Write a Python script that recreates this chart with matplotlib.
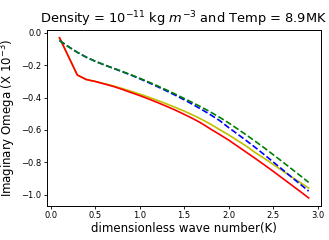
import matplotlib
matplotlib.use("Agg")
import matplotlib.pyplot as plt

# wave number K
k = [0.1, 0.2, 0.3, 0.4, 0.5, 0.6, 0.7, 0.8, 0.9, 1.0,
     1.1, 1.2, 1.3, 1.4, 1.5, 1.6, 1.7, 1.8, 1.9, 2.0,
     2.1, 2.2, 2.3, 2.4, 2.5, 2.6, 2.7, 2.8, 2.9]

# imaginary omega (x 1e-3)
om_red = [-0.03, -0.145, -0.26, -0.288, -0.30, -0.315, -0.33, -0.348, -0.368, -0.387,
          -0.408, -0.43, -0.453, -0.477, -0.503, -0.53, -0.56, -0.595, -0.628, -0.662,
          -0.70, -0.738, -0.776, -0.815, -0.855, -0.896, -0.937, -0.978, -1.02]
om_yellow = [-0.03, -0.145, -0.26, -0.288, -0.30, -0.313, -0.327, -0.343, -0.36, -0.378,
             -0.397, -0.417, -0.438, -0.46, -0.483, -0.508, -0.535, -0.565, -0.598, -0.63,
             -0.665, -0.70, -0.74, -0.775, -0.812, -0.85, -0.887, -0.923, -0.959]
om_blue = [-0.047, -0.085, -0.12, -0.15, -0.175, -0.197, -0.218, -0.239, -0.26, -0.283,
           -0.307, -0.332, -0.358, -0.385, -0.413, -0.443, -0.474, -0.507, -0.542, -0.585,
           -0.625, -0.666, -0.708, -0.752, -0.797, -0.842, -0.888, -0.933, -0.978]
om_green = [-0.047, -0.085, -0.12, -0.15, -0.175, -0.197, -0.217, -0.237, -0.258, -0.28,
            -0.303, -0.327, -0.352, -0.378, -0.405, -0.432, -0.46, -0.49, -0.522, -0.556,
            -0.593, -0.631, -0.67, -0.71, -0.752, -0.794, -0.837, -0.88, -0.924]

fig = plt.figure(figsize=(3.29, 2.40), dpi=100)
ax = fig.add_axes([0.143, 0.142, 0.833, 0.734])

ax.plot(k, om_yellow, 'y-', linewidth=1.2)
ax.plot(k, om_red, 'r-', linewidth=1.2)
ax.plot(k, om_blue, 'b--', linewidth=1.2)
ax.plot(k, om_green, 'g--', linewidth=1.2)

ax.set_xticks([0.0, 0.5, 1.0, 1.5, 2.0, 2.5, 3.0])
ax.set_yticks([0.0, -0.2, -0.4, -0.6, -0.8, -1.0])
ax.tick_params(labelsize=6, length=2.5, width=0.6, pad=1.5)
for s in ax.spines.values():
    s.set_linewidth(0.7)

ax.set_xlabel('dimensionless wave number(K)', fontsize=8.5, labelpad=1)
ax.set_ylabel(r'Imaginary Omega (X $10^{-3}$)', fontsize=8.5, labelpad=2)
ax.set_title(r'Density = $10^{-11}$ kg $m^{-3}$ and Temp = 8.9MK', fontsize=9.4, pad=5)

plt.savefig('out.png', dpi=100)
